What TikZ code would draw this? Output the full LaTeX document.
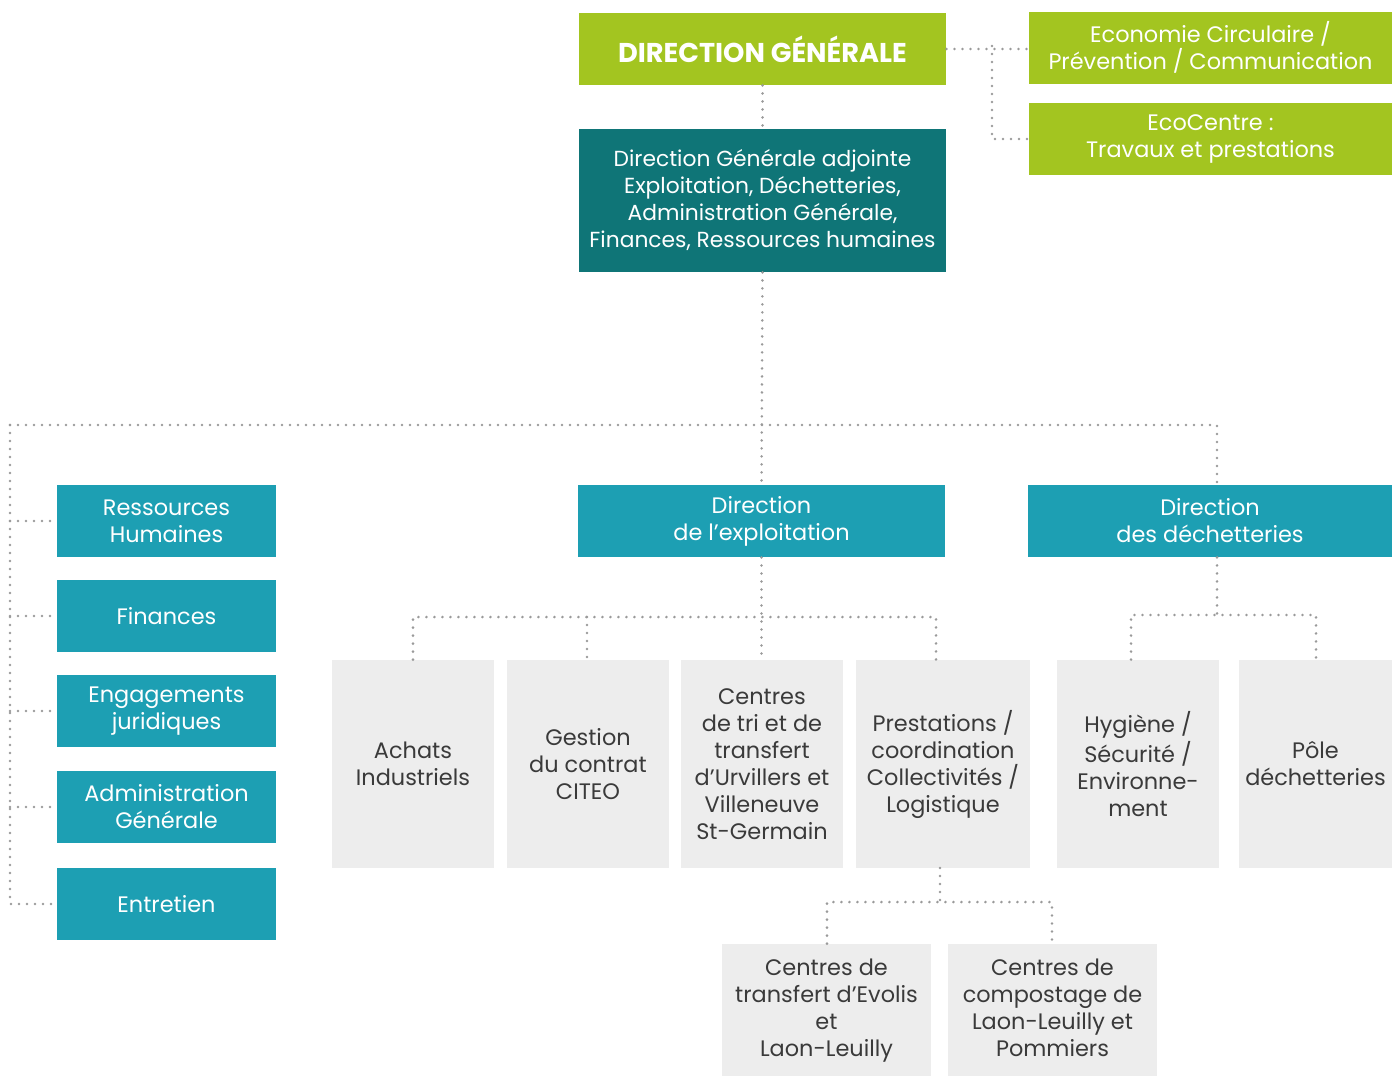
\documentclass[tikz,border=0pt]{standalone}
\usepackage{fontspec}
\setmainfont{Poppins}
\definecolor{lime}{HTML}{A3C520}
\definecolor{darkteal}{HTML}{0F7577}
\definecolor{teal}{HTML}{1D9FB3}
\definecolor{greybox}{HTML}{EDEDED}
\definecolor{greytext}{HTML}{3A3A3A}
\definecolor{dotgrey}{HTML}{9A9A9A}
\begin{document}
\begin{tikzpicture}[x=0.5pt,y=-0.5pt,
  base/.style={rectangle,inner sep=0pt,align=center,font=\fontsize{11.2}{13.5}\selectfont},
  green/.style={base,fill=lime,text=white,minimum width=181.5pt,minimum height=36pt},
  dark/.style={base,fill=darkteal,text=white,minimum width=183.5pt,minimum height=71.5pt,font=\fontsize{10.9}{13.5}\selectfont},
  tealbox/.style={base,fill=teal,text=white,minimum height=36pt},
  greyb/.style={base,fill=greybox,text=greytext},
  dotline/.style={draw=dotgrey,line width=1.4pt,line cap=round,dash pattern=on 0pt off 4pt}]
\useasboundingbox (0,0) rectangle (1392,1077);
% top
\node[green,minimum width=183.5pt,font=\bfseries\fontsize{13.6}{15}\selectfont] (dg) at (762.5,49) {DIRECTION GÉNÉRALE};
\node[green] (eco) at (1210.5,47.5) {Economie Circulaire /\\Prévention / Communication};
\node[green] (ecoc) at (1210.5,139) {EcoCentre :\\Travaux et prestations};
\node[dark] (dga) at (762.5,200.5) {Direction Générale adjointe\\Exploitation, Déchetteries,\\Administration Générale,\\Finances, Ressources humaines};
% left column
\node[tealbox,minimum width=109.5pt] (rh) at (166.5,521) {Ressources\\Humaines};
\node[tealbox,minimum width=109.5pt] (fin) at (166.5,616) {Finances};
\node[tealbox,minimum width=109.5pt] (eng) at (166.5,711) {Engagements\\juridiques};
\node[tealbox,minimum width=109.5pt] (adm) at (166.5,807) {Administration\\Générale};
\node[tealbox,minimum width=109.5pt] (ent) at (166.5,904) {Entretien};
% directions
\node[tealbox,minimum width=183.5pt] (dexp) at (761.5,521) {Direction\\de l’exploitation};
\node[tealbox,minimum width=182pt] (ddec) at (1210,521) {Direction\\des déchetteries};
% grey boxes
\node[greyb,minimum width=81pt,minimum height=104pt] (ach) at (413,764) {Achats\\Industriels};
\node[greyb,minimum width=81pt,minimum height=104pt] (ges) at (588,764) {Gestion\\du contrat\\CITEO};
\node[greyb,minimum width=81pt,minimum height=104pt] (ctri) at (762,764) {Centres\\de tri et de\\transfert\\d’Urvillers et\\Villeneuve\\St-Germain};
\node[greyb,minimum width=87pt,minimum height=104pt] (pres) at (943,764) {Prestations /\\coordination\\Collectivités /\\Logistique};
\node[greyb,minimum width=81pt,minimum height=104pt] (hyg) at (1138,764) {Hygiène /\\Sécurité /\\Environne-\\ment};
\node[greyb,minimum width=76.5pt,minimum height=104pt] (pole) at (1315.5,764) {Pôle\\déchetteries};
\node[greyb,minimum width=104.5pt,minimum height=66pt,text depth=2pt] (cte) at (826.5,1010) {Centres de\\transfert d’Evolis\\et\\Laon-Leuilly};
\node[greyb,minimum width=104.5pt,minimum height=66pt,text depth=2pt] (ccomp) at (1052.5,1010) {Centres de\\compostage de\\Laon-Leuilly et\\Pommiers};
% bus coordinates
\coordinate (j1) at (992,46);
\coordinate (hl) at (10,425);
\coordinate (hr) at (1217,425);
\coordinate (ex1) at (413,617);
\coordinate (ex2) at (587,617);
\coordinate (ex3) at (936,617);
\coordinate (dc1) at (1131,615);
\coordinate (dc2) at (1316,615);
\coordinate (pr1) at (827,902);
\coordinate (pr2) at (1052,902);
\coordinate (prt) at (940,868);
% connectors
\draw[dotline] (dg.south) -- (dga.north);
\draw[dotline] (dg.east) -- (dg.east -| eco.west);
\draw[dotline] (j1) |- (ecoc.west);
\draw[dotline] (dga.south) -- (dexp.north);
\draw[dotline] (hl) -- (hr) -- (hr |- ddec.north);
\draw[dotline] (hl) |- (ent.west);
\draw[dotline] (hl |- rh.west) -- (rh.west);
\draw[dotline] (hl |- fin.west) -- (fin.west);
\draw[dotline] (hl |- eng.west) -- (eng.west);
\draw[dotline] (hl |- adm.west) -- (adm.west);
\draw[dotline] (dexp.south) -- (dexp.south |- ctri.north);
\draw[dotline] (ex1 |- ach.north) -- (ex1) -- (ex3) -- (ex3 |- pres.north);
\draw[dotline] (ex2) -- (ex2 |- ges.north);
\draw[dotline] (ddec.south -| hr) -- (hr |- dc1);
\draw[dotline] (dc1 |- hyg.north) -- (dc1) -- (dc2) -- (dc2 |- pole.north);
\draw[dotline] (prt) -- (prt |- pr1);
\draw[dotline] (pr1 |- cte.north) -- (pr1) -- (pr2) -- (pr2 |- ccomp.north);
\end{tikzpicture}
\end{document}
